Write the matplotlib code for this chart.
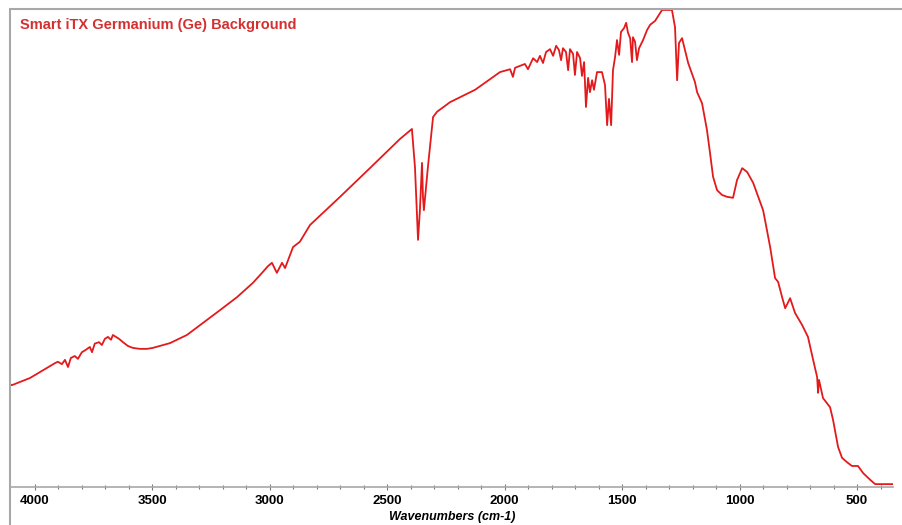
import numpy as np
import matplotlib
matplotlib.use('Agg')
import matplotlib.pyplot as plt
from matplotlib.patches import Rectangle

plt.rcParams['font.family'] = ['Liberation Sans', 'DejaVu Sans']

# spectrum (wavenumber in cm-1, relative intensity)
wavenumber = [
    4106, 4098, 4021, 3915, 3902, 3885, 3872, 3859, 3847, 3830, 3817, 3800,
    3783, 3766, 3757, 3745, 3727, 3715, 3702, 3689, 3676, 3668, 3655, 3642,
    3625, 3604, 3583, 3553, 3523, 3498, 3425, 3353, 3285, 3212, 3140, 3072,
    3033, 3008, 2991, 2970, 2948, 2935, 2901, 2872, 2850, 2829, 2701, 2574,
    2446, 2395, 2382, 2369, 2361, 2352, 2348, 2344, 2327, 2305, 2288, 2233,
    2126, 2020, 1977, 1965, 1956, 1914, 1901, 1879, 1862, 1850, 1837, 1824,
    1807, 1794, 1781, 1769, 1760, 1752, 1739, 1730, 1722, 1709, 1701, 1692,
    1679, 1671, 1662, 1654, 1645, 1637, 1628, 1620, 1607, 1586, 1573, 1564,
    1556, 1547, 1539, 1530, 1522, 1513, 1505, 1492, 1483, 1475, 1466, 1458,
    1454, 1445, 1437, 1428, 1411, 1394, 1381, 1360, 1330, 1288, 1275, 1266,
    1258, 1245, 1219, 1190, 1181, 1160, 1139, 1126, 1113, 1096, 1075, 1053,
    1028, 1011, 989, 968, 942, 900, 892, 870, 849, 836, 819, 806,
    785, 764, 734, 709, 687, 670, 666, 662, 645, 615, 602, 581,
    564, 543, 522, 496, 474, 444, 423, 402, 347,
]
intensity = [
    21.5, 21.3, 22.8, 25.9, 26.2, 25.7, 26.6, 25.1, 27.0, 27.4, 26.8, 28.2,
    28.7, 29.3, 28.2, 30.0, 30.3, 29.7, 31.0, 31.4, 30.8, 31.8, 31.4, 31.0,
    30.3, 29.5, 29.1, 28.9, 28.9, 29.1, 30.1, 31.8, 34.3, 37.0, 39.7, 42.7,
    44.8, 46.2, 46.9, 44.8, 46.9, 45.8, 50.2, 51.3, 53.1, 54.8, 60.7, 66.7,
    72.8, 74.9, 66.9, 51.7, 57.9, 67.8, 60.7, 57.9, 66.9, 77.4, 78.5, 80.5,
    83.1, 86.8, 87.4, 85.8, 87.7, 88.5, 87.4, 89.7, 88.9, 90.2, 88.7, 91.0,
    91.6, 90.2, 92.3, 91.4, 89.3, 91.8, 91.0, 87.2, 91.6, 90.6, 86.2, 91.0,
    89.7, 86.0, 88.9, 79.5, 85.6, 82.6, 85.1, 83.1, 86.8, 86.8, 84.1, 75.7,
    81.2, 75.7, 87.2, 90.0, 93.5, 90.4, 95.2, 96.0, 97.1, 95.0, 93.9, 88.9,
    94.1, 93.1, 89.3, 91.8, 93.5, 95.6, 96.7, 97.5, 99.8, 99.8, 96.2, 85.1,
    92.9, 93.9, 88.7, 84.7, 82.6, 80.3, 74.7, 69.9, 64.9, 62.1, 61.1, 60.7,
    60.5, 64.2, 66.7, 65.9, 63.6, 57.9, 55.9, 50.2, 43.7, 42.9, 39.7, 37.4,
    39.5, 36.4, 33.9, 31.4, 26.6, 23.0, 19.7, 22.4, 18.6, 16.7, 14.0, 8.4,
    6.1, 5.2, 4.4, 4.4, 2.9, 1.5, 0.6, 0.6, 0.6,
]

major_ticks = [4000, 3500, 3000, 2500, 2000, 1500, 1000, 500]
title = 'Smart iTX Germanium (Ge) Background'
xlabel = 'Wavenumbers (cm-1)'

W, H = 902, 525
fig = plt.figure(figsize=(W / 100, H / 100), dpi=100)

# outer grey frame of the spectrum window
fig.patches.append(Rectangle((10 / W, -0.1), 1.2, (525 - 9) / H + 0.1,
                             transform=fig.transFigure, fill=False,
                             edgecolor='#a8a8a8', linewidth=1.5))

ax = fig.add_axes([10 / W, (H - 487) / H, (893 - 10) / W, (487 - 9) / H])
ax.plot(wavenumber, intensity, color='#e31a1c', linewidth=1.3)

ax.set_xlim(4106, 347)
ax.set_ylim(0, 100)
ax.patch.set_alpha(0)
for s in ['left', 'right', 'top']:
    ax.spines[s].set_visible(False)
ax.spines['bottom'].set_color('#a8a8a8')
ax.spines['bottom'].set_linewidth(1.2)

ax.set_yticks([])
ax.set_xticks(major_ticks)
ax.set_xticks(np.arange(400, 4100, 100), minor=True)
ax.tick_params(axis='x', which='major', direction='inout', length=5,
               width=0.8, color='#777777', labelsize=9.5, pad=3)
ax.tick_params(axis='x', which='minor', direction='inout', length=3,
               width=0.8, color='#777777')
for lbl in ax.get_xticklabels():
    lbl.set_fontweight('bold')

fig.text(452 / W, 1 - 517 / H, xlabel, ha='center', va='center',
         fontsize=9, fontweight='bold', fontstyle='italic')
fig.text(20 / W, 1 - 25 / H, title, ha='left', va='center',
         fontsize=10.5, fontweight='bold', color='#d43030')

fig.savefig('out.png', dpi=100)
